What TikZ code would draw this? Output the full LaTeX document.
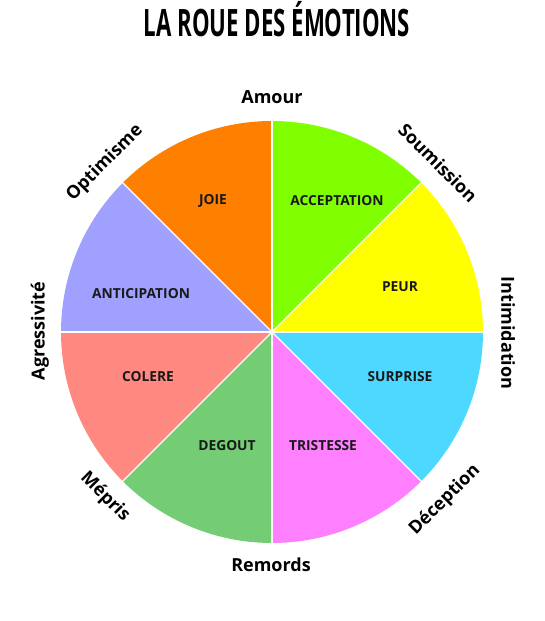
\documentclass[tikz,border=0pt]{standalone}
\usepackage{fontspec}
\setmainfont{Open Sans}
\usepackage{graphicx}
\definecolor{cJoie}{HTML}{FF8000}
\definecolor{cAccept}{HTML}{80FF00}
\definecolor{cPeur}{HTML}{FFFF00}
\definecolor{cSurprise}{HTML}{4DD8FF}
\definecolor{cTrist}{HTML}{FF80FF}
\definecolor{cDegout}{HTML}{74CC74}
\definecolor{cColere}{HTML}{FF8880}
\definecolor{cAntic}{HTML}{A0A0FF}
\begin{document}
\begin{tikzpicture}[x=1pt,y=1pt,
  inlabel/.style={font=\fontsize{13.8}{14}\selectfont\bfseries, text=black!90},
  outlabel/.style={font=\fontsize{18}{18}\selectfont\bfseries, text=black},
  sep/.style={draw=white, line width=1.2pt}]
\useasboundingbox (0,0) rectangle (545,621);
\coordinate (c) at (272,289);
\def\R{211}
% sectors
\fill[cAccept] (c) -- ++(90:\R) arc[start angle=90, end angle=45, radius=\R] -- cycle;
\fill[cPeur] (c) -- ++(45:\R) arc[start angle=45, end angle=0, radius=\R] -- cycle;
\fill[cSurprise] (c) -- ++(0:\R) arc[start angle=0, end angle=-45, radius=\R] -- cycle;
\fill[cTrist] (c) -- ++(-45:\R) arc[start angle=-45, end angle=-90, radius=\R] -- cycle;
\fill[cDegout] (c) -- ++(-90:\R) arc[start angle=-90, end angle=-135, radius=\R] -- cycle;
\fill[cColere] (c) -- ++(-135:\R) arc[start angle=-135, end angle=-180, radius=\R] -- cycle;
\fill[cAntic] (c) -- ++(180:\R) arc[start angle=180, end angle=135, radius=\R] -- cycle;
\fill[cJoie] (c) -- ++(135:\R) arc[start angle=135, end angle=90, radius=\R] -- cycle;
% separators
\foreach \a in {0,45,...,315} { \draw[sep] (c) -- ++(\a:\R); }
% title
\node (title) at (277,602) {\scalebox{0.6}[1.02]{\fontsize{37}{37}\selectfont\bfseries LA ROUE DES ÉMOTIONS}};
% inner labels
\node[inlabel] (joie) at (213,420) {JOIE};
\node[inlabel] (accept) at (337,420) {ACCEPTATION};
\node[inlabel] (peur) at (400,334) {PEUR};
\node[inlabel] (surprise) at (400,244) {SURPRISE};
\node[inlabel] (trist) at (323,175) {TRISTESSE};
\node[inlabel] (degout) at (227,175) {DEGOUT};
\node[inlabel] (colere) at (148,244) {COLERE};
\node[inlabel] (antic) at (141,327) {ANTICIPATION};
% outer labels
\node[outlabel] (amour) at (272,524) {Amour};
\node[outlabel, rotate=-45] (soum) at (438,458) {Soumission};
\node[outlabel, rotate=-90] (intim) at (508,288) {Intimidation};
\node[outlabel, rotate=45] (decep) at (445,121) {Déception};
\node[outlabel] (remords) at (271,56) {Remords};
\node[outlabel, rotate=-45] (mepris) at (105,124) {Mépris};
\node[outlabel, rotate=90] (agress) at (40,290) {Agressivité};
\node[outlabel, rotate=45] (optim) at (105,458) {Optimisme};
\end{tikzpicture}
\end{document}
